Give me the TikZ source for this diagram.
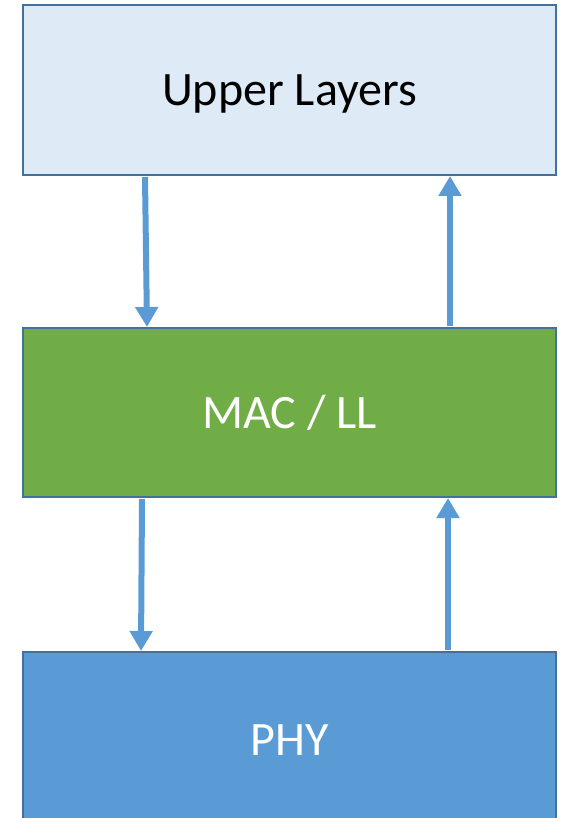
\documentclass[tikz,border=0pt]{standalone}
\usepackage{fontspec}
\setmainfont{Carlito}
\usetikzlibrary{arrows.meta}
\definecolor{bord}{HTML}{41719C}
\definecolor{upfill}{HTML}{DEEBF7}
\definecolor{macfill}{HTML}{70AD47}
\definecolor{phyfill}{HTML}{5B9BD5}
\definecolor{arrc}{HTML}{5B9BD5}
\tikzset{
  layer/.style={draw=bord, line width=2pt, minimum width=533pt, inner sep=0pt,
    text height=31pt, text depth=0pt,
    font=\fontsize{48}{56}\selectfont},
  arr/.style={draw=arrc, line width=6pt, -{Triangle[width=22pt,length=20pt]}},
}
\begin{document}
\begin{tikzpicture}[x=1pt,y=-1pt]
\useasboundingbox (0,0) rectangle (560,818);
\node[layer, fill=upfill, minimum height=170pt, text=black] (upper) at (289.5,90) {Upper Layers};
\node[layer, fill=macfill, minimum height=169pt, text=white] (mac) at (289.5,412.5) {MAC / LL};
\node[layer, fill=phyfill, minimum height=176pt, text=white] (phy) at (289.5,740) {PHY};
\draw[arr] ([xshift=-144.5pt,yshift=-1pt]upper.south) -- ([xshift=-142.5pt]mac.north);
\draw[arr] ([xshift=160.5pt,yshift=1pt]mac.north) -- ([xshift=160.5pt]upper.south);
\draw[arr] ([xshift=-147.5pt,yshift=-1pt]mac.south) -- ([xshift=-148.5pt]phy.north);
\draw[arr] ([xshift=158.5pt,yshift=1pt]phy.north) -- ([xshift=158.5pt]mac.south);
\end{tikzpicture}
\end{document}
